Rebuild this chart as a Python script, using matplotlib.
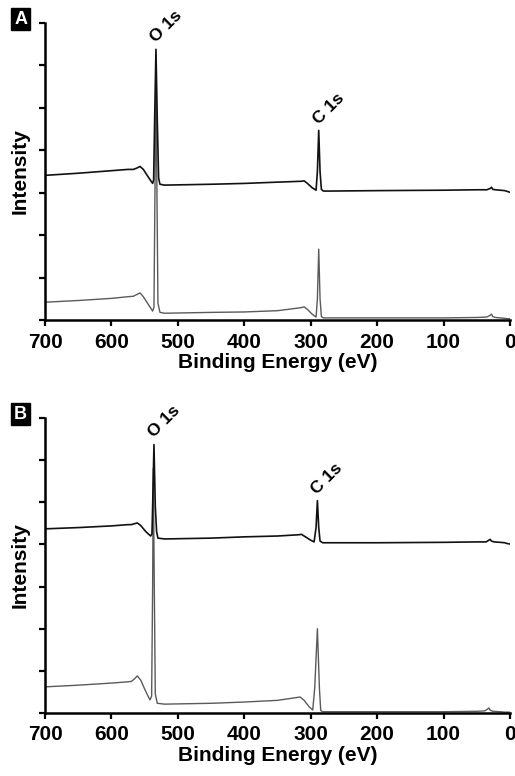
import matplotlib.pyplot as plt

plt.rcParams['font.family'] = ['Liberation Sans', 'DejaVu Sans']
plt.rcParams['font.weight'] = 'bold'

# panel A, upper trace (black)
a_top_e = [700, 650, 600, 575, 567, 562, 557, 552, 545, 538, 536.5, 535, 533, 531, 529, 527, 520,
           450, 400, 350, 315, 310, 305, 298, 292, 290, 288, 286, 284, 281, 270, 200, 100, 50,
           35, 30, 28, 26, 22, 15, 8, 4, 0]
a_top_i = [3.41, 3.46, 3.52, 3.55, 3.55, 3.58, 3.62, 3.55, 3.38, 3.22, 3.3, 4.7, 6.38, 4.7, 3.35, 3.2, 3.18,
           3.2, 3.22, 3.25, 3.27, 3.28, 3.22, 3.12, 3.06, 3.5, 4.47, 3.5, 3.08, 3.04, 3.04, 3.05, 3.06, 3.07,
           3.07, 3.1, 3.13, 3.08, 3.07, 3.06, 3.05, 3.03, 3.01]

# panel A, lower trace (grey)
a_bot_e = [700, 650, 600, 575, 567, 562, 557, 552, 545, 538, 536, 534.5, 533, 531.5, 530, 527, 520,
           450, 400, 350, 315, 310, 305, 298, 292, 290, 288, 286, 284, 281, 270, 200, 100, 50,
           35, 30, 28, 26, 22, 15, 8, 4, 0]
a_bot_i = [0.42, 0.46, 0.51, 0.55, 0.56, 0.6, 0.64, 0.55, 0.38, 0.21, 0.3, 3.0, 5.6, 3.0, 0.4, 0.18, 0.16,
           0.18, 0.19, 0.22, 0.29, 0.31, 0.25, 0.14, 0.07, 0.5, 1.67, 0.5, 0.08, 0.05, 0.05, 0.05, 0.05, 0.06,
           0.07, 0.11, 0.14, 0.08, 0.06, 0.05, 0.04, 0.03, 0.03]

# panel B, upper trace (black)
b_top_e = [700, 650, 600, 575, 570, 566, 561, 556, 548, 541, 539, 538, 536, 534, 532, 530, 520,
           450, 400, 350, 318, 314, 308, 300, 295, 292, 290, 288, 286, 282, 270, 200, 100, 50,
           36, 32, 30, 28, 24, 15, 8, 4, 0]
b_top_i = [4.37, 4.4, 4.44, 4.47, 4.47, 4.49, 4.51, 4.45, 4.3, 4.2, 4.25, 4.9, 6.37, 4.9, 4.3, 4.15, 4.13,
           4.15, 4.18, 4.2, 4.23, 4.24, 4.18, 4.1, 4.06, 4.4, 5.04, 4.4, 4.08, 4.04, 4.04, 4.04, 4.05, 4.06,
           4.06, 4.1, 4.12, 4.08, 4.06, 4.05, 4.04, 4.02, 4.01]

# panel B, lower trace (grey)
b_bot_e = [700, 650, 600, 575, 570, 566, 561, 556, 548, 542, 539.5, 538, 537, 535.5, 534, 531, 520,
           450, 400, 350, 320, 316, 310, 302, 297, 294, 290, 287, 285, 282, 270, 200, 100, 50,
           38, 34, 32, 30, 26, 15, 8, 4, 0]
b_bot_i = [0.62, 0.66, 0.71, 0.74, 0.75, 0.8, 0.88, 0.78, 0.5, 0.31, 0.4, 3.0, 5.8, 3.0, 0.45, 0.23, 0.21,
           0.23, 0.26, 0.3, 0.37, 0.38, 0.3, 0.14, 0.07, 0.6, 2.0, 0.6, 0.06, 0.03, 0.03, 0.03, 0.03, 0.04,
           0.05, 0.09, 0.12, 0.07, 0.04, 0.03, 0.02, 0.02, 0.02]

x_ticks = [700, 600, 500, 400, 300, 200, 100, 0]
y_ticks = [0, 1, 2, 3, 4, 5, 6, 7]

panels = [
    ('A', [0.0874, 0.5876, 0.903, 0.3827], a_top_e, a_top_i, a_bot_e, a_bot_i,
     (533, 6.45), (288, 4.55)),
    ('B', [0.0874, 0.0812, 0.903, 0.3801], b_top_e, b_top_i, b_bot_e, b_bot_i,
     (536, 6.45), (290, 5.12)),
]

fig = plt.figure(figsize=(5.15, 7.76), dpi=100)

for letter, rect, te, ti, be, bi, o_pos, c_pos in panels:
    ax = fig.add_axes(rect)
    ax.plot(be, bi, color='#5a5a5a', lw=1.0)
    ax.plot(te, ti, color='#111111', lw=1.2)
    ax.set_xlim(700, 0)
    ax.set_ylim(0, 7)
    ax.set_xticks(x_ticks)
    ax.set_yticks(y_ticks)
    ax.set_yticklabels([])
    ax.tick_params(direction='out', length=4, width=1.6, labelsize=15, pad=5)
    for lab in ax.get_xticklabels():
        lab.set_fontweight('bold')
    for s in ['top', 'right']:
        ax.spines[s].set_visible(False)
    for s in ['left', 'bottom']:
        ax.spines[s].set_linewidth(1.8)
    ax.set_xlabel('Binding Energy (eV)', fontsize=15, fontweight='bold', labelpad=1)
    ax.set_ylabel('Intensity', fontsize=15, fontweight='bold', labelpad=2)
    ax.text(o_pos[0] - 3, o_pos[1] + 0.02, 'O 1s', rotation=45, fontsize=12.5, fontweight='bold',
            ha='left', va='bottom', rotation_mode='anchor')
    ax.text(c_pos[0] - 3, c_pos[1] + 0.0, 'C 1s', rotation=45, fontsize=12.5, fontweight='bold',
            ha='left', va='bottom', rotation_mode='anchor')
    top = rect[1] + rect[3]
    fig.text(0.04, top + 0.005, letter, fontsize=13, fontweight='bold', color='white',
             ha='center', va='center',
             bbox=dict(boxstyle='square,pad=0.15', fc='black', ec='black'))

fig.savefig('out.png', dpi=100)
